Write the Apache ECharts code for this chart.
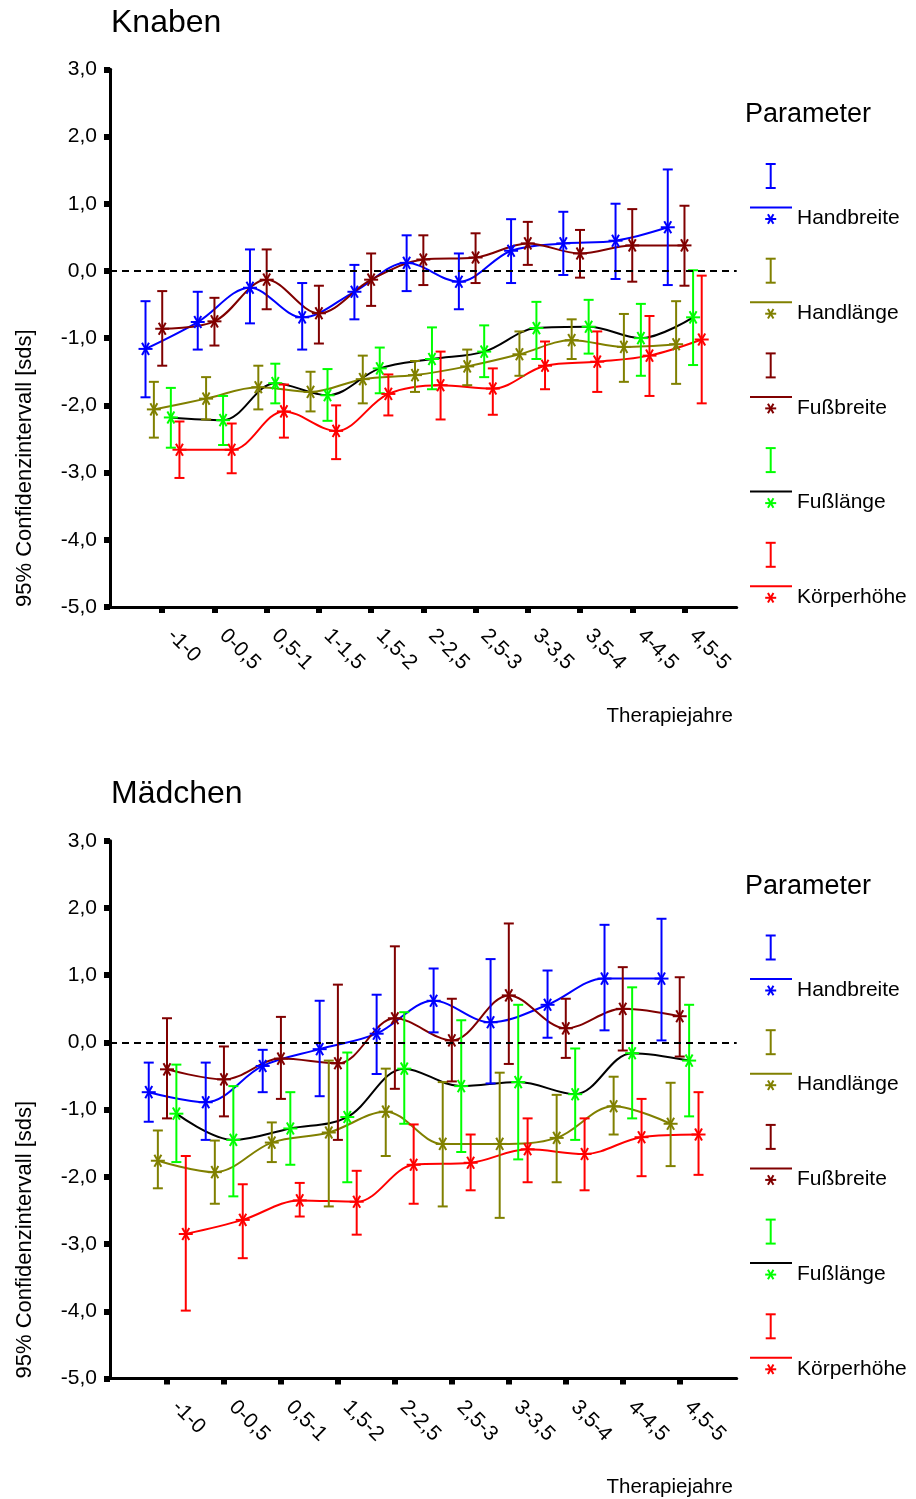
<!DOCTYPE html>
<html>
<head>
<meta charset="utf-8">
<script src="https://cdn.jsdelivr.net/npm/echarts@6/dist/echarts.min.js"></script>
<style>
  body { margin: 0; background: #fff; }
  #chart { width: 916px; height: 1499px; }
</style>
</head>
<body>
<div id="chart"></div>
<script>
// Kategorien (Therapiejahre)
const catsKnaben = ['-1-0', '0-0,5', '0,5-1', '1-1,5', '1,5-2', '2-2,5', '2,5-3', '3-3,5', '3,5-4', '4-4,5', '4,5-5'];
const catsMaedchen = ['-1-0', '0-0,5', '0,5-1', '1,5-2', '2-2,5', '2,5-3', '3-3,5', '3,5-4', '4-4,5', '4,5-5'];

const paramNames = ['Handbreite', 'Handlänge', 'Fußbreite', 'Fußlänge', 'Körperhöhe'];
const markColors = ['#0000ff', '#808000', '#800000', '#00ff00', '#ff0000'];
const lineColors = ['#0000ff', '#808000', '#800000', '#000000', '#ff0000'];
const yTicks = [-5, -4, -3, -2, -1, 0, 1, 2, 3];

// [untere Grenze, Mittelwert, obere Grenze] in sds
const knabenHandbreite = [[-1.88, -1.16, -0.45], [-1.17, -0.76, -0.31], [-0.78, -0.25, 0.32], [-1.17, -0.69, -0.18], [-0.72, -0.31, 0.09], [-0.30, 0.12, 0.53], [-0.57, -0.16, 0.26], [-0.18, 0.30, 0.77], [-0.06, 0.41, 0.88], [-0.12, 0.45, 1.00], [-0.21, 0.65, 1.51]];
const knabenHandlaenge = [[-2.48, -2.06, -1.65], [-2.21, -1.90, -1.58], [-2.06, -1.73, -1.41], [-2.09, -1.80, -1.50], [-1.97, -1.61, -1.26], [-1.80, -1.55, -1.34], [-1.70, -1.42, -1.17], [-1.56, -1.24, -0.90], [-1.31, -1.03, -0.72], [-1.65, -1.13, -0.64], [-1.68, -1.09, -0.45]];
const knabenFussbreite = [[-1.41, -0.86, -0.30], [-1.11, -0.75, -0.40], [-0.57, -0.13, 0.32], [-1.08, -0.63, -0.22], [-0.52, -0.13, 0.26], [-0.21, 0.17, 0.53], [-0.18, 0.20, 0.56], [0.09, 0.41, 0.73], [-0.10, 0.26, 0.61], [-0.16, 0.38, 0.92], [-0.22, 0.38, 0.97]];
const knabenFusslaenge = [[-2.63, -2.18, -1.74], [-2.59, -2.22, -1.86], [-1.97, -1.67, -1.38], [-2.23, -1.85, -1.46], [-1.82, -1.45, -1.14], [-1.76, -1.31, -0.84], [-1.58, -1.20, -0.81], [-1.31, -0.85, -0.46], [-1.23, -0.83, -0.43], [-1.56, -1.00, -0.49], [-1.40, -0.69, 0.01]];
const knabenKoerperhoehe = [[-3.08, -2.66, -2.24], [-3.01, -2.66, -2.27], [-2.48, -2.09, -1.69], [-2.80, -2.38, -2.00], [-2.15, -1.83, -1.54], [-2.21, -1.70, -1.20], [-2.14, -1.75, -1.45], [-1.76, -1.41, -1.05], [-1.80, -1.35, -0.90], [-1.86, -1.26, -0.67], [-1.97, -1.02, -0.07]];

const maedchenHandbreite = [[-1.18, -0.74, -0.30], [-1.45, -0.89, -0.30], [-0.74, -0.35, -0.11], [-0.80, -0.10, 0.62], [-0.47, 0.13, 0.71], [0.15, 0.62, 1.10], [-0.61, 0.30, 1.24], [0.07, 0.56, 1.07], [0.18, 0.95, 1.75], [0.03, 0.95, 1.84]];
const maedchenHandlaenge = [[-2.17, -1.76, -1.31], [-2.40, -1.93, -1.46], [-1.78, -1.49, -1.19], [-2.44, -1.34, -0.27], [-1.69, -1.03, -0.39], [-2.44, -1.51, -0.59], [-2.61, -1.51, -0.45], [-2.08, -1.42, -0.78], [-1.37, -0.95, -0.51], [-1.84, -1.21, -0.60]];
const maedchenFussbreite = [[-1.13, -0.40, 0.36], [-1.10, -0.55, -0.06], [-0.84, -0.24, 0.38], [-1.45, -0.31, 0.86], [-0.69, 0.36, 1.43], [-0.58, 0.03, 0.65], [-0.32, 0.70, 1.77], [-0.23, 0.21, 0.65], [-0.12, 0.50, 1.12], [-0.21, 0.39, 0.97]];
const maedchenFusslaenge = [[-1.78, -1.06, -0.33], [-2.29, -1.45, -0.65], [-1.82, -1.28, -0.74], [-2.08, -1.11, -0.15], [-1.21, -0.39, 0.45], [-1.63, -0.65, 0.33], [-1.74, -0.59, 0.56], [-1.45, -0.77, -0.09], [-1.13, -0.16, 0.82], [-1.10, -0.27, 0.56]];
const maedchenKoerperhoehe = [[-3.99, -2.85, -1.69], [-3.21, -2.64, -2.11], [-2.59, -2.35, -2.09], [-2.86, -2.37, -1.91], [-2.40, -1.82, -1.22], [-2.20, -1.79, -1.37], [-2.08, -1.59, -1.13], [-2.20, -1.66, -1.13], [-1.99, -1.41, -0.84], [-1.97, -1.37, -0.74]];

const knabenData = [knabenHandbreite, knabenHandlaenge, knabenFussbreite, knabenFusslaenge, knabenKoerperhoehe];
const maedchenData = [maedchenHandbreite, maedchenHandlaenge, maedchenFussbreite, maedchenFusslaenge, maedchenKoerperhoehe];

// seitlicher Versatz je Parameter innerhalb einer Kategorie
const dodge = [-0.32, -0.16, 0, 0.165, 0.33];

const FONT = 'Liberation Sans, Arial, sans-serif';
const PANEL_SHIFT = 771.5;

function starLines(cx, cy, r, color) {
  const a = Math.PI / 3;
  return [0, a, 2 * a].map((t) => ({
    type: 'line',
    shape: { x1: cx - r * Math.cos(t), y1: cy - r * Math.sin(t), x2: cx + r * Math.cos(t), y2: cy + r * Math.sin(t) },
    style: { stroke: color, lineWidth: 2 },
  }));
}

function errorBarItem(color) {
  return function (params, api) {
    const x = api.value(0);
    const lo = api.coord([x, api.value(1)]);
    const m = api.coord([x, api.value(2)]);
    const hi = api.coord([x, api.value(3)]);
    const c = 5;
    const st = { stroke: color, lineWidth: 2 };
    return {
      type: 'group',
      children: [
        { type: 'line', shape: { x1: lo[0], y1: lo[1], x2: hi[0], y2: hi[1] }, style: st },
        { type: 'line', shape: { x1: lo[0] - c, y1: lo[1], x2: lo[0] + c, y2: lo[1] }, style: st },
        { type: 'line', shape: { x1: hi[0] - c, y1: hi[1], x2: hi[0] + c, y2: hi[1] }, style: st },
      ].concat(starLines(m[0], m[1], 7, color)),
    };
  };
}

const series = [];
[knabenData, maedchenData].forEach((panel, g) => {
  panel.forEach((rows, k) => {
    series.push({
      type: 'line',
      xAxisIndex: g,
      yAxisIndex: g,
      smooth: 0.35,
      symbol: 'none',
      z: 2,
      lineStyle: { color: lineColors[k], width: 2 },
      data: rows.map((r, i) => [i + 1 + dodge[k], r[1]]),
      markLine: k === 0 ? {
        silent: true,
        symbol: 'none',
        label: { show: false },
        lineStyle: { color: '#000', width: 2, type: [7, 5] },
        data: [{ yAxis: 0 }],
      } : undefined,
    });
    series.push({
      type: 'custom',
      xAxisIndex: g,
      yAxisIndex: g,
      z: 3,
      renderItem: errorBarItem(markColors[k]),
      encode: { x: 0, y: [1, 2, 3] },
      data: rows.map((r, i) => [i + 1 + dodge[k], r[0], r[1], r[2]]),
    });
  });
});

function xAxisFor(g, cats) {
  const vals = cats.map((c, i) => i + 1);
  return {
    type: 'value',
    gridIndex: g,
    min: 0,
    max: cats.length + 1,
    interval: 1,
    splitLine: { show: false },
    axisLine: { onZero: false, lineStyle: { color: '#000', width: 3 } },
    axisTick: { customValues: vals, length: 6, lineStyle: { color: '#000', width: 6 } },
    axisLabel: {
      customValues: vals,
      formatter: (v) => cats[v - 1] || '',
      rotate: -45,
      margin: 17,
      padding: [0, 0, 0, 12],
      fontSize: 21,
      fontFamily: FONT,
      color: '#000',
    },
  };
}

function yAxisFor(g) {
  return {
    type: 'value',
    gridIndex: g,
    min: yTicks[0],
    max: yTicks[yTicks.length - 1],
    interval: 1,
    splitLine: { show: false },
    axisLine: { lineStyle: { color: '#000', width: 3 } },
    axisTick: { length: 6, lineStyle: { color: '#000', width: 6 } },
    axisLabel: {
      formatter: (v) => v.toFixed(1).replace('.', ','),
      margin: 13,
      fontSize: 21,
      fontFamily: FONT,
      color: '#000',
    },
  };
}

function panelGraphics(dy, title) {
  const els = [
    { type: 'text', left: 111, top: 7 + dy, style: { text: title, font: '32px ' + FONT, fill: '#000' } },
    {
      type: 'text', x: 25, y: 607 + dy, rotation: Math.PI / 2,
      style: { text: '95% Confidenzintervall [sds]', font: '22px ' + FONT, fill: '#000', align: 'left', verticalAlign: 'middle' },
    },
    { type: 'text', x: 733, y: 716 + dy, style: { text: 'Therapiejahre', font: '20.5px ' + FONT, fill: '#000', align: 'right', verticalAlign: 'middle' } },
    { type: 'text', x: 745, y: 115 + dy, style: { text: 'Parameter', font: '27px ' + FONT, fill: '#000', align: 'left', verticalAlign: 'middle' } },
  ];
  paramNames.forEach((name, k) => {
    const y0 = 164 + 94.7 * k + dy;
    const cx = 770.7;
    const st = { stroke: markColors[k], lineWidth: 2 };
    els.push({
      type: 'group',
      children: [
        { type: 'line', shape: { x1: cx, y1: y0, x2: cx, y2: y0 + 24 }, style: st },
        { type: 'line', shape: { x1: cx - 5, y1: y0, x2: cx + 5, y2: y0 }, style: st },
        { type: 'line', shape: { x1: cx - 5, y1: y0 + 24, x2: cx + 5, y2: y0 + 24 }, style: st },
        { type: 'line', shape: { x1: 750, y1: y0 + 43.5, x2: 792, y2: y0 + 43.5 }, style: { stroke: lineColors[k], lineWidth: 2 } },
      ].concat(starLines(cx, y0 + 55, 5.5, markColors[k])),
    });
    els.push({ type: 'text', x: 797, y: y0 + 54.5, style: { text: name, font: '21px ' + FONT, fill: '#000', align: 'left', verticalAlign: 'middle' } });
  });
  return els;
}

const chart = echarts.init(document.getElementById('chart'), null, { renderer: 'canvas' });
chart.setOption({
  backgroundColor: '#fff',
  animation: false,
  grid: [
    { left: 110, top: 69.3, width: 626.7, height: 537.7, outerBoundsMode: 'none' },
    { left: 110, top: 69.3 + PANEL_SHIFT, width: 626.7, height: 537.7, outerBoundsMode: 'none' },
  ],
  xAxis: [xAxisFor(0, catsKnaben), xAxisFor(1, catsMaedchen)],
  yAxis: [yAxisFor(0), yAxisFor(1)],
  graphic: panelGraphics(0, 'Knaben').concat(panelGraphics(PANEL_SHIFT, 'Mädchen')),
  series: series,
});
</script>
</body>
</html>
